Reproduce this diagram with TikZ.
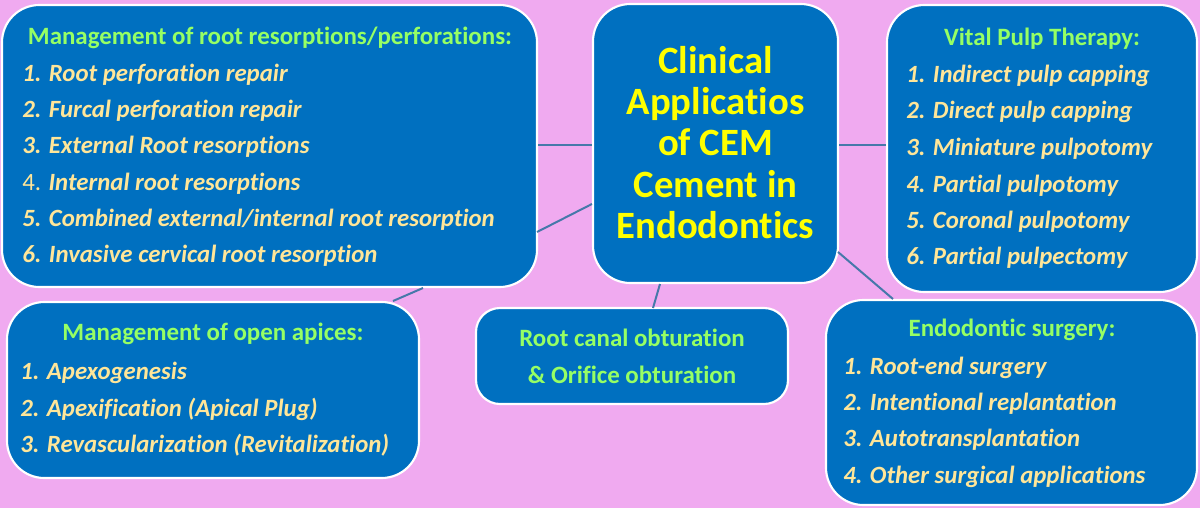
\documentclass[tikz,border=0pt]{standalone}
\usepackage{fontspec}
\setmainfont{Carlito}[Ligatures={NoCommon}]
\definecolor{bgpink}{RGB}{240,170,240}
\definecolor{boxblue}{RGB}{0,112,192}
\definecolor{titleyellow}{RGB}{255,255,0}
\definecolor{headgreen}{RGB}{150,255,100}
\definecolor{itemyellow}{RGB}{255,230,153}
\definecolor{linkblue}{RGB}{70,120,170}
\tikzset{
  box/.style={draw=white, line width=1.6pt, fill=boxblue, rounded corners=28pt, inner sep=0pt},
  title/.style={text=titleyellow, font=\fontsize{29}{31}\selectfont\bfseries, align=center, inner sep=0pt},
  head/.style={text=headgreen, font=\fontsize{18.7}{22}\selectfont\bfseries, inner sep=0pt},
  item/.style={text=itemyellow, font=\fontsize{18.6}{22}\selectfont\bfseries\itshape, anchor=west, inner sep=0pt},
  link/.style={draw=linkblue, line width=1.5pt},
}
\begin{document}
\begin{tikzpicture}[x=0.75pt,y=-0.75pt]
\fill[bgpink] (0,0) rectangle (1200,508);
\useasboundingbox (0,0) rectangle (1200,508);
% boxes
\node[box, minimum width=535*0.75pt, minimum height=282*0.75pt] (tl) at (269.5,146) {};
\node[box, minimum width=245*0.75pt, minimum height=279*0.75pt] (c) at (715.5,143.5) {};
\node[box, minimum width=310*0.75pt, minimum height=287*0.75pt] (tr) at (1042,148.5) {};
\node[box, minimum width=412*0.75pt, minimum height=176*0.75pt] (bl) at (213,390) {};
\node[box, minimum width=312*0.75pt, minimum height=96*0.75pt, rounded corners=18pt] (m) at (632,356) {};
\node[box, minimum width=371*0.75pt, minimum height=205*0.75pt] (br) at (1011.5,402.5) {};
% connectors
\coordinate (tlA) at (tl.east |- 0,145);
\coordinate (cA) at (c.west |- 0,145);
\coordinate (tlB) at (537,232);
\coordinate (cB) at (c.west |- 0,204);
\coordinate (blA) at (393,301);
\coordinate (tlC) at (423,288);
\coordinate (cC) at (660,284);
\coordinate (mA) at (653,308);
\coordinate (cD) at (c.east |- 0,145);
\coordinate (trA) at (tr.west |- 0,145);
\coordinate (cE) at (838,252);
\coordinate (brA) at (893,299);
\draw[link] (tlA) -- (cA);
\draw[link] (tlB) -- (cB);
\draw[link] (blA) -- (tlC);
\draw[link] (cC) -- (mA);
\draw[link] (cD) -- (trA);
\draw[link] (cE) -- (brA);
% center title
\node[title] (ttl) at (715.5,142.5) {Clinical\\Applicatios\\of CEM\\Cement in\\Endodontics};
% top left
\node[head] (h1) at (270,38) {Management of root resorptions/perforations:};
\node[item] (a1) at (22,75) {1. Root perforation repair};
\node[item] (a2) at (22,111) {2. Furcal perforation repair};
\node[item] (a3) at (22,147) {3. External Root resorptions};
\node[item] (a4) at (22,184) {{\upshape\mdseries 4.} Internal root resorptions};
\node[item] (a5) at (22,220) {5. Combined external/internal root resorption};
\node[item] (a6) at (22,256) {6. Invasive cervical root resorption};
% top right
\node[head] (h2) at (1042,39) {Vital Pulp Therapy:};
\node[item] (b1) at (906,76) {1. Indirect pulp capping};
\node[item] (b2) at (906,112) {2. Direct pulp capping};
\node[item] (b3) at (906,149) {3. Miniature pulpotomy};
\node[item] (b4) at (906,186) {4. Partial pulpotomy};
\node[item] (b5) at (906,222) {5. Coronal pulpotomy};
\node[item] (b6) at (906,258) {6. Partial pulpectomy};
% bottom left
\node[head] (h3) at (213,334) {Management of open apices:};
\node[item] (d1) at (20,373) {1. Apexogenesis};
\node[item] (d2) at (20,409) {2. Apexification (Apical Plug)};
\node[item] (d3) at (20,445) {3. Revascularization (Revitalization)};
% middle
\node[head] (h4) at (632,338) {Root canal obturation};
\node[head] (h5) at (632,375) {\& Orifice obturation};
% bottom right
\node[head] (h6) at (1012,330) {Endodontic surgery:};
\node[item] (e1) at (843,368) {1. Root-end surgery};
\node[item] (e2) at (843,404) {2. Intentional replantation};
\node[item] (e3) at (843,440) {3. Autotransplantation};
\node[item] (e4) at (843,477) {4. Other surgical applications};
\end{tikzpicture}
\end{document}
